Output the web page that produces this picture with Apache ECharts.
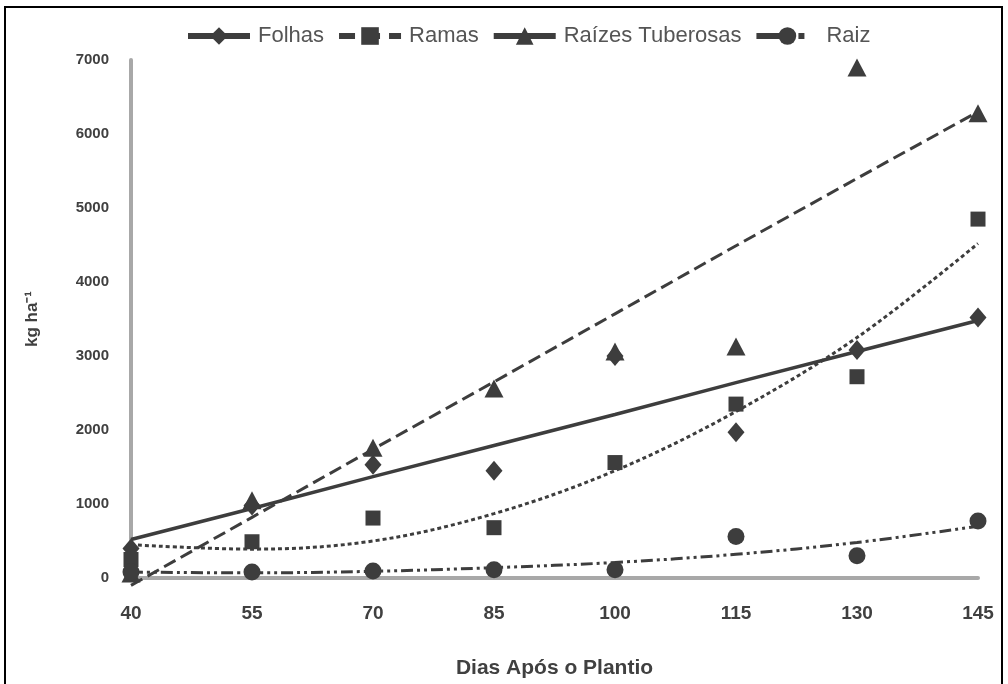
<!DOCTYPE html>
<html>
<head>
<meta charset="utf-8">
<script src="https://cdn.jsdelivr.net/npm/echarts@6/dist/echarts.min.js"></script>
<style>html,body{margin:0;padding:0;background:#fff;}#c{width:1008px;height:684px;}</style>
</head>
<body>
<div id="c"></div>
<script>
const days = ['40', '55', '70', '85', '100', '115', '130', '145'];
const yTicks = [0, 1000, 2000, 3000, 4000, 5000, 6000, 7000];
// observed values (markers)
const folhas = [400, 980, 1530, 1450, 3000, 1970, 3080, 3520];
const ramas = [250, 490, 810, 680, 1560, 2350, 2720, 4850];
const raizesTub = [60, 1050, 1760, 2560, 3060, 3130, 6900, 6280];
const raiz = [80, 80, 95, 110, 110, 560, 300, 770];
// fitted trend lines at each tick
const folhasTrend = [520, 940, 1370, 1790, 2210, 2640, 3060, 3480];
const ramasTrend = [450, 390, 500, 870, 1450, 2250, 3250, 4520];
const raizesTrend = [-100, 820, 1740, 2650, 3570, 4490, 5400, 6300];
const raizTrend = [80, 70, 90, 140, 210, 320, 480, 700];

const names = ['Folhas', 'Ramas', 'Raízes Tuberosas', 'Raiz'];
const symbols = ['diamond', 'rect', 'triangle', 'circle'];
const symbolSizes = [[17, 20], 15, [19, 18], 17];
const markerData = [folhas, ramas, raizesTub, raiz];
const trendData = [folhasTrend, ramasTrend, raizesTrend, raizTrend];
const dashTypes = ['solid', [4, 3], [13, 6], [12, 4, 3, 4, 3, 4]];
const legendDash = ['solid', [16, 9], 'solid', [34, 8, 6, 30]];
const smoothFlags = [false, 0.35, false, 0.35];

const ink = '#3d3d3d';
const series = [];
names.forEach((n, i) => {
  series.push({
    name: n, type: 'line', data: trendData[i], smooth: smoothFlags[i],
    showSymbol: false, symbol: symbols[i], clip: false, z: 2,
    lineStyle: {color: ink, width: i === 0 ? 3.5 : 3, type: dashTypes[i]},
    itemStyle: {color: ink}, silent: true
  });
});
names.forEach((n, i) => {
  series.push({
    name: n, type: 'scatter', data: markerData[i], symbol: symbols[i],
    symbolSize: symbolSizes[i], z: 3,
    itemStyle: {color: ink, opacity: 1}
  });
});

const chart = echarts.init(document.getElementById('c'));
chart.setOption({
  animation: false,
  backgroundColor: '#fff',
  textStyle: {fontFamily: "'Liberation Sans', Arial, sans-serif"},
  graphic: [{
    type: 'rect', shape: {x: 5, y: 7, width: 997, height: 700},
    style: {fill: 'none', stroke: '#000', lineWidth: 2}, silent: true
  }],
  legend: {
    data: names.map((n, i) => ({name: n, lineStyle: {type: legendDash[i], width: 6, color: ink}})),
    top: 20, left: 180, padding: [5, 5, 5, 5], itemWidth: 62, itemHeight: 22, itemGap: 12,
    textStyle: {fontSize: 22, color: '#555', padding: [0, 0, 0, 3]}
  },
  grid: {left: 131, right: 30, top: 60, bottom: 102, containLabel: false},
  xAxis: {
    type: 'category', data: days, boundaryGap: false,
    axisLine: {show: true, lineStyle: {color: '#a8a8a8', width: 4}},
    axisTick: {show: false},
    axisLabel: {color: '#404040', fontWeight: 'bold', fontSize: 19, margin: 26},
    splitLine: {show: false},
    name: 'Dias Após o Plantio', nameLocation: 'middle', nameGap: 80,
    nameTextStyle: {color: '#404040', fontWeight: 'bold', fontSize: 21}
  },
  yAxis: {
    type: 'value', min: yTicks[0], max: yTicks[yTicks.length - 1], interval: 1000,
    axisLine: {show: true, lineStyle: {color: '#a8a8a8', width: 4}},
    axisTick: {show: false},
    axisLabel: {color: '#404040', fontWeight: 'bold', fontSize: 15, margin: 22,
      formatter: v => String(v)},
    splitLine: {show: false},
    name: 'kg ha⁻¹', nameLocation: 'middle', nameGap: 90, nameRotate: 90,
    nameTextStyle: {color: '#404040', fontWeight: 'bold', fontSize: 17}
  },
  series: series
});
</script>
</body>
</html>
